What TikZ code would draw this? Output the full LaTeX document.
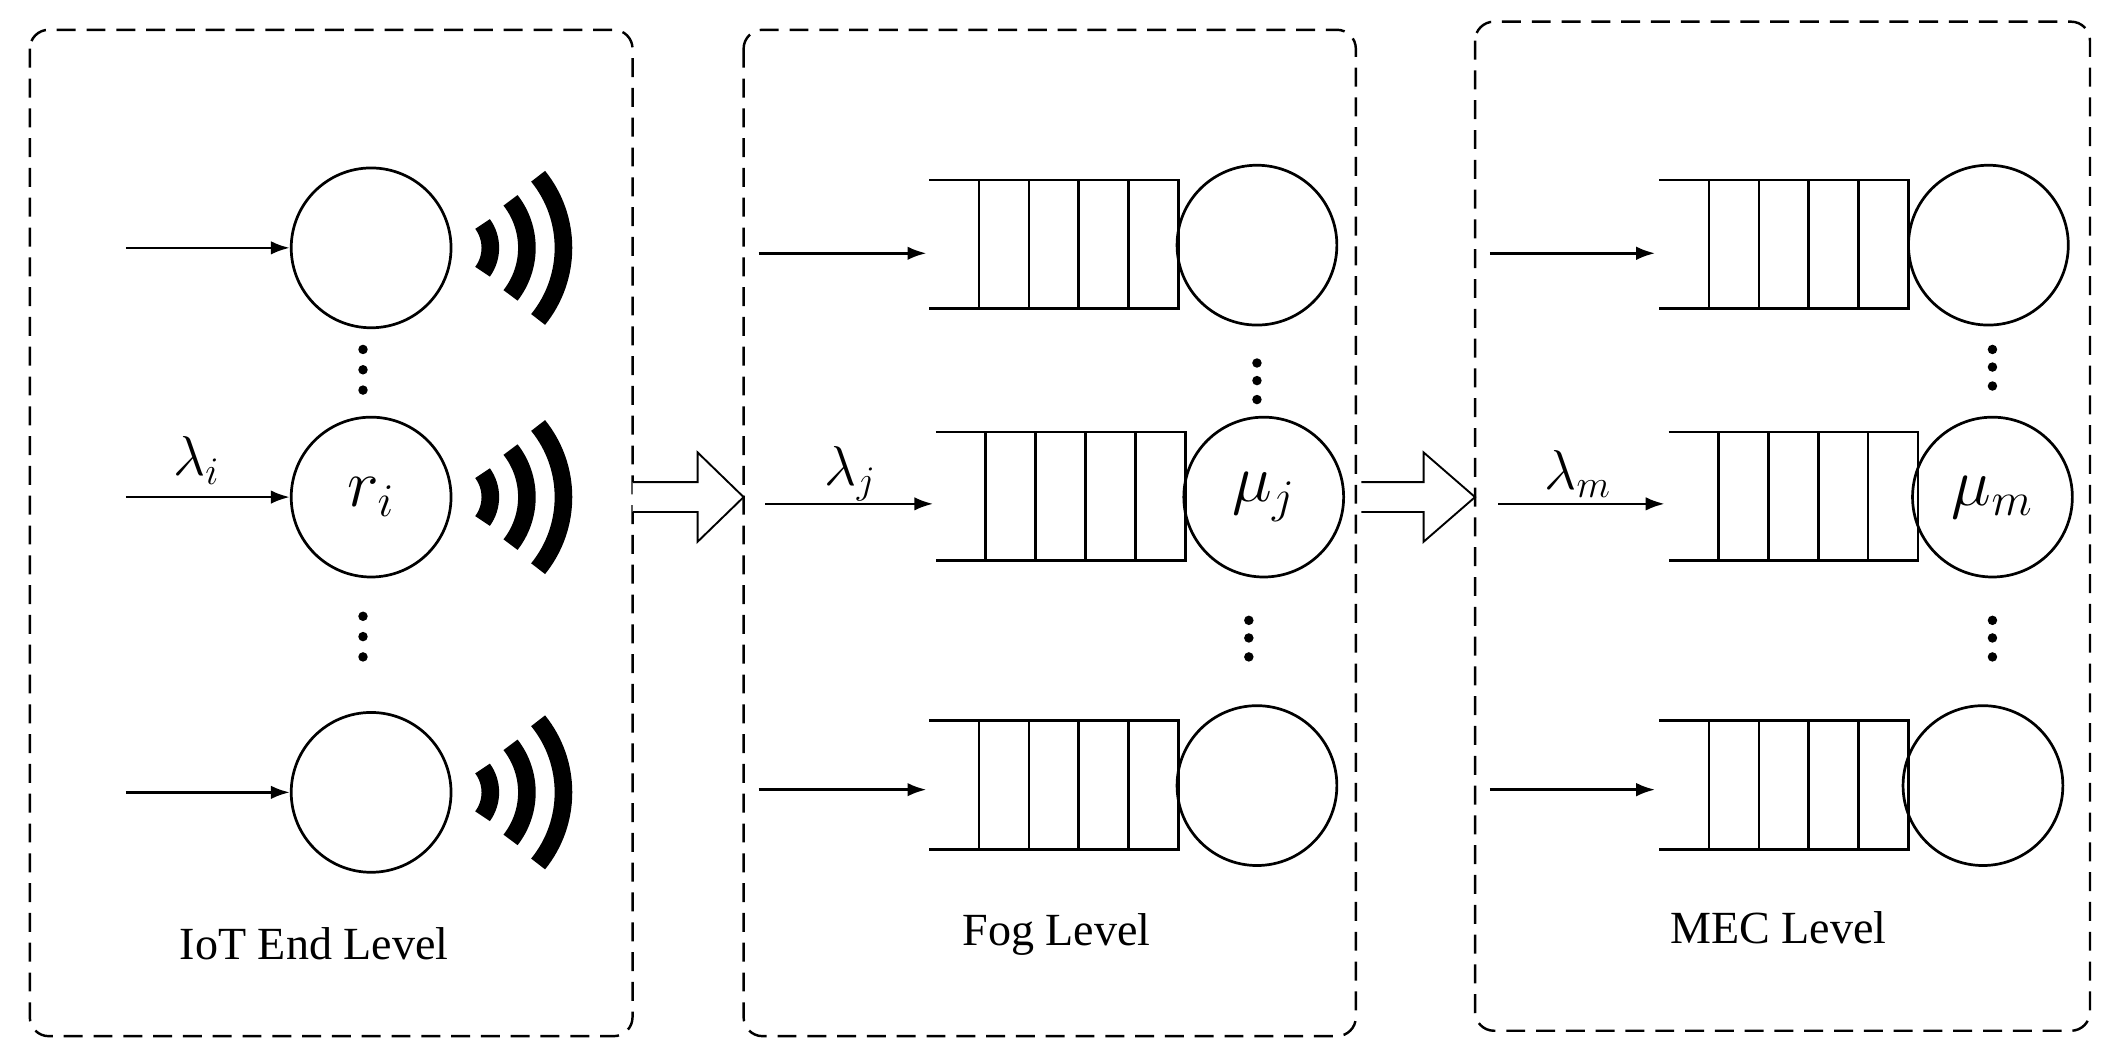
\documentclass[tikz,border=0pt]{standalone}
\usepackage{fontspec}
\setmainfont{Liberation Serif}
\usetikzlibrary{arrows.meta,calc}
\begin{document}
\begin{tikzpicture}[x=0.5pt,y=-0.5pt,
  box/.style={draw,line width=0.9pt,dash pattern=on 7pt off 4pt,rounded corners=7pt},
  srv/.style={draw,circle,line width=1pt,minimum size=59pt,inner sep=0pt,font=\fontsize{26}{26}\selectfont},
  arr/.style={-{Latex[length=7pt,width=5pt]},line width=1pt},
  q/.style={line width=1pt},
  dot/.style={fill,circle,inner sep=0pt,minimum size=3.5pt},
  wifi/.style={line width=6.5pt},
  lbl/.style={font=\fontsize{17}{17}\selectfont},
  hollow/.style={draw,line width=0.7pt,fill=white}]
\useasboundingbox (0,0) rectangle (1560,779);
% boxes
\draw[box] (22,22) rectangle (467,765);
\draw[box] (549,22) rectangle (1001,765);
\draw[box] (1089,16) rectangle (1543,761);
% IoT level
\node[srv] (c1) at (274,183) {};
\node[srv] (c2) at (274,367) {$r_i$};
\node[srv] (c3) at (274,585) {};
\coordinate (s1) at (93,183);
\coordinate (s2) at (93,367);
\coordinate (s3) at (93,585);
\draw[arr] (s1) -- (c1.west);
\draw[arr] (s2) -- (c2.west);
\draw[arr] (s3) -- (c3.west);
\node[font=\fontsize{20}{20}\selectfont] (li) at (145,340) {$\lambda_i$};
\foreach \y in {258,273,288} \node[dot] at (268,\y) {};
\foreach \y in {455,470,485} \node[dot] at (268,\y) {};
\foreach \cy in {183,367,585}{
  \foreach \r/\a in {15/36,28.5/38,42/39}
    \draw[wifi] ($(332,\cy)+(-\a:\r pt)$) arc[start angle=-\a,end angle=\a,radius=\r pt];
}
% hollow arrows
\draw[hollow] (467,356) -- (515,356) -- (515,334) -- (549,367) -- (515,400) -- (515,378) -- (467,378);
\draw[hollow] (1005,356) -- (1051,356) -- (1051,334) -- (1089,367) -- (1051,400) -- (1051,378) -- (1005,378);
% queues
\foreach \n/\x/\y in {f1/686/133, f2/691/319, f3/686/532, m1/1225/133, m2/1232/319, m3/1225/532}{
  \draw[q] (\x,\y) -- ++(184,0) -- ++(0,95) -- ++(-184,0);
  \foreach \k in {1,2,3,4} \draw[q] ($(\x,\y)+(\k*36.8,0)$) -- ++(0,95);
}
\node[srv] (fc1) at (928,181) {};
\node[srv] (fc2) at (933,367) {$\mu_j$};
\node[srv] (fc3) at (928,580) {};
\node[srv] (mc1) at (1468,181) {};
\node[srv] (mc2) at (1471,367) {$\mu_m$};
\node[srv] (mc3) at (1464,580) {};
\coordinate (fs1) at (560,187);
\coordinate (fs2) at (565,372);
\coordinate (fs3) at (560,583);
\coordinate (ft1) at (684,187);
\coordinate (ft2) at (689,372);
\coordinate (ft3) at (684,583);
\draw[arr] (fs1) -- (ft1);
\draw[arr] (fs2) -- (ft2);
\draw[arr] (fs3) -- (ft3);
\coordinate (ms1) at (1100,187);
\coordinate (ms2) at (1106,372);
\coordinate (ms3) at (1100,583);
\coordinate (mt1) at (1222,187);
\coordinate (mt2) at (1229,372);
\coordinate (mt3) at (1222,583);
\draw[arr] (ms1) -- (mt1);
\draw[arr] (ms2) -- (mt2);
\draw[arr] (ms3) -- (mt3);
\node[font=\fontsize{20}{20}\selectfont] (lj) at (628,350) {$\lambda_j$};
\node[font=\fontsize{20}{20}\selectfont] (lm) at (1165,350) {$\lambda_m$};
\foreach \y in {268,281,295} \node[dot] at (928,\y) {};
\foreach \y in {458,471,485} \node[dot] at (922,\y) {};
\foreach \y in {258,271,285} \node[dot] at (1471,\y) {};
\foreach \y in {458,471,485} \node[dot] at (1471,\y) {};
% labels
\node[lbl] (t1) at (232,697) {IoT End Level};
\node[lbl] (t2) at (780,690) {Fog Level};
\node[lbl] (t3) at (1313,685) {MEC Level};
\end{tikzpicture}
\end{document}
